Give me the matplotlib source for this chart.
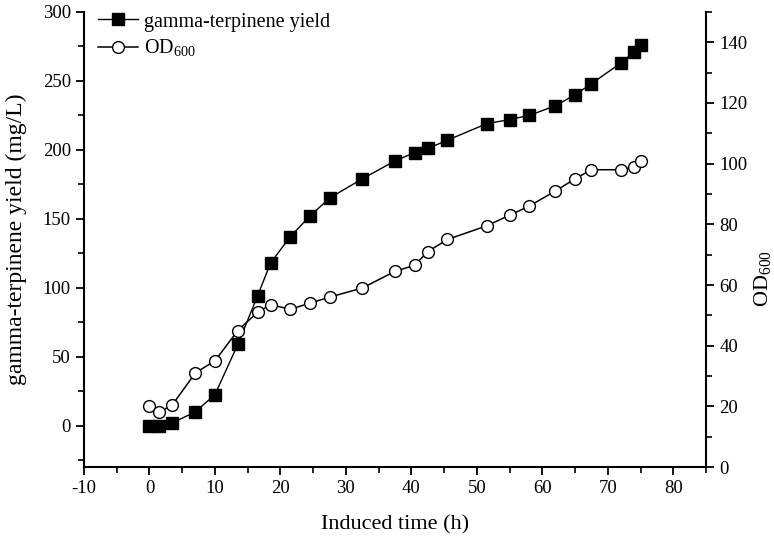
import matplotlib
matplotlib.use("Agg")
import matplotlib.pyplot as plt
from matplotlib.ticker import MultipleLocator

plt.rcParams['font.family'] = ['Liberation Serif', 'DejaVu Serif']
plt.rcParams['mathtext.fontset'] = 'custom'
plt.rcParams['mathtext.rm'] = 'Liberation Serif'
plt.rcParams['axes.unicode_minus'] = False

time_h = [0, 1.5, 3.5, 7, 10, 13.5, 16.5, 18.5, 21.5, 24.5, 27.5, 32.5, 37.5,
          40.5, 42.5, 45.5, 51.5, 55, 58, 62, 65, 67.5, 72, 74, 75]
yield_mg_l = [0, 0, 2, 10, 22.5, 59, 94, 118, 137, 152, 165, 179, 192,
              198, 201, 207, 219, 222, 225, 232, 240, 248, 263, 271, 276]
od600 = [20, 18, 20.5, 31, 35, 45, 51, 53.5, 52, 54, 56, 59, 64.5,
         66.5, 71, 75, 79.5, 83, 86, 91, 95, 98, 98, 99, 101]

fig = plt.figure(figsize=(7.74, 5.43), dpi=100)
ax = fig.add_axes([84/774, 1-467/543, (706-84)/774, (467-12)/543])
ax2 = ax.twinx()

l1, = ax.plot(time_h, yield_mg_l, color='black', lw=1.0, marker='s', ms=8,
              mfc='black', mec='black', label='gamma-terpinene yield')
l2, = ax2.plot(time_h, od600, color='black', lw=1.1, marker='o', ms=8.5,
               mfc='white', mec='black', mew=1.0, label='OD$_{600}$')

ax.set_xlim(-10, 85)
ax.set_ylim(-30, 300)
ax2.set_ylim(0, 150)

ax.xaxis.set_major_locator(MultipleLocator(10))
ax.xaxis.set_minor_locator(MultipleLocator(5))
ax.yaxis.set_major_locator(MultipleLocator(50))
ax.yaxis.set_minor_locator(MultipleLocator(25))
ax2.yaxis.set_major_locator(MultipleLocator(20))
ax2.yaxis.set_minor_locator(MultipleLocator(10))

for a in (ax, ax2):
    a.spines['top'].set_visible(False)
    for s in a.spines.values():
        s.set_linewidth(1.5)
    a.tick_params(which='major', direction='out', length=6, width=1.3, labelsize=13.5)
    a.tick_params(which='minor', direction='out', length=4, width=1.2)
ax.spines['right'].set_visible(False)
ax2.spines['left'].set_visible(False)
ax2.spines['bottom'].set_visible(False)

ax.set_xlabel('Induced time (h)', fontsize=16, labelpad=13)
ax.set_ylabel('gamma-terpinene yield (mg/L)', fontsize=17)
ax.yaxis.set_label_coords(-0.092, 0.5)
ax2.set_ylabel('OD$_{600}$', fontsize=16)
ax2.yaxis.set_label_coords(1.075, 62/150)

leg = ax.legend(handles=[l1, l2], loc='upper left', frameon=False, fontsize=14.5,
                bbox_to_anchor=(0.0, 1.03), handlelength=2.0, handletextpad=0.3,
                labelspacing=0.3, borderaxespad=0.3)

fig.savefig('out.png', dpi=100)
